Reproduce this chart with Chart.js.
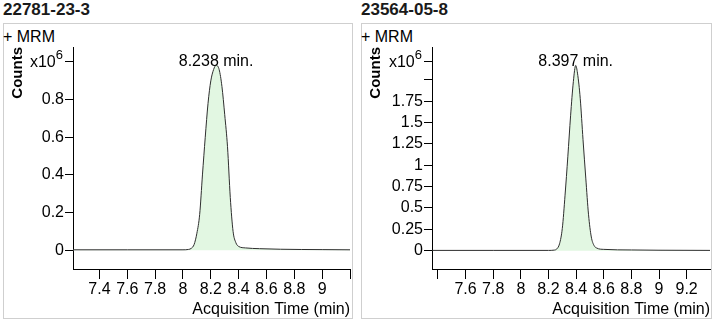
<!DOCTYPE html>
<html>
<head>
<meta charset="utf-8">
<script src="https://cdn.jsdelivr.net/npm/chart.js@4.4.1/dist/chart.umd.min.js"></script>
<style>
  body { margin: 0; background: #fff; width: 719px; height: 323px; overflow: hidden; }
  .title { position: absolute; top: 0px; font: bold 17px "Liberation Sans", Arial, sans-serif; color: #1a1a1a; }
  .box { position: absolute; top: 23px; height: 294px; border: 1px solid #cfcfcf; }
  .mrm { position: absolute; top: 28px; font: 16px "Liberation Sans", Arial, sans-serif; color: #000; }
  canvas { position: absolute; top: 24px; }
</style>
</head>
<body>
<div class="title" style="left:3px">22781-23-3</div>
<div class="title" style="left:361px">23564-05-8</div>
<div class="box" style="left:3px;width:348px"></div>
<div class="box" style="left:361px;width:349px"></div>
<div class="mrm" style="left:3px">+ MRM</div>
<div class="mrm" style="left:361px">+ MRM</div>
<canvas id="chrom-left" width="347" height="296" style="left:4px"></canvas>
<canvas id="chrom-right" width="349" height="296" style="left:362px"></canvas>

<script>
// 22781-23-3 trace (time in min, counts x10^6)
const leftTimes = [7.21, 7.6, 8.0, 8.04, 8.06, 8.08, 8.10, 8.12, 8.14, 8.16, 8.18, 8.20, 8.22, 8.238, 8.26, 8.28, 8.30, 8.32, 8.34, 8.36, 8.38, 8.40, 8.45, 8.55, 8.70, 9.0, 9.2];
const leftCounts = [0.002, 0.002, 0.002, 0.004, 0.01, 0.03, 0.09, 0.19, 0.40, 0.60, 0.78, 0.90, 0.96, 0.983, 0.96, 0.87, 0.72, 0.55, 0.28, 0.10, 0.04, 0.02, 0.012, 0.008, 0.005, 0.003, 0.002];
const leftPeakTime = 8.238;
const leftPeakCounts = 0.983;
const leftPeakLabel = "8.238 min.";
const leftXRange = [7.21, 9.2];
const leftYRange = [-0.1, 1.08];
const leftXTicks = [7.4, 7.6, 7.8, 8, 8.2, 8.4, 8.6, 8.8, 9, 9.2];
const leftXTickLabels = ["7.4", "7.6", "7.8", "8", "8.2", "8.4", "8.6", "8.8", "9", ""];
const leftYTicks = [0, 0.2, 0.4, 0.6, 0.8];
const leftYTickLabels = ["0", "0.2", "0.4", "0.6", "0.8"];

// 23564-05-8 trace
const rightTimes = [7.36, 7.8, 8.2, 8.24, 8.26, 8.28, 8.30, 8.32, 8.34, 8.36, 8.38, 8.397, 8.41, 8.43, 8.45, 8.47, 8.49, 8.51, 8.53, 8.55, 8.60, 8.8, 9.0, 9.37];
const rightCounts = [0.003, 0.003, 0.003, 0.006, 0.02, 0.08, 0.26, 0.65, 1.10, 1.58, 1.98, 2.17, 2.08, 1.78, 1.30, 0.85, 0.42, 0.16, 0.06, 0.03, 0.015, 0.008, 0.005, 0.003];
const rightPeakTime = 8.397;
const rightPeakCounts = 2.17;
const rightPeakLabel = "8.397 min.";
const rightXRange = [7.357, 9.369];
const rightYRange = [-0.215, 2.386];
const rightXTicks = [7.4, 7.6, 7.8, 8, 8.2, 8.4, 8.6, 8.8, 9, 9.2];
const rightXTickLabels = ["", "7.6", "7.8", "8", "8.2", "8.4", "8.6", "8.8", "9", "9.2"];
const rightYTicks = [0, 0.25, 0.5, 0.75, 1, 1.25, 1.5, 1.75, 2];
const rightYTickLabels = ["0", "0.25", "0.5", "0.75", "1", "1.25", "1.5", "1.75", ""];

const FONT = '"Liberation Sans", Arial, sans-serif';

// peak retention label and the x10^6 multiplier at the top of the y axis
const peakLabelPlugin = {
  id: "peakLabel",
  afterDatasetsDraw(chart, args, opts) {
    const { ctx, chartArea, scales } = chart;
    const px = scales.x.getPixelForValue(opts.time);
    const py = scales.y.getPixelForValue(opts.counts);

    ctx.save();
    ctx.fillStyle = "#000";
    ctx.font = "16px " + FONT;
    ctx.textAlign = "center";
    ctx.textBaseline = "middle";
    ctx.fillText(opts.text, px, py - 4);

    const ty = Math.round(chartArea.top + 14) + 0.5;
    ctx.strokeStyle = "#000";
    ctx.lineWidth = 1;
    ctx.beginPath();
    ctx.moveTo(chartArea.left - 8, ty);
    ctx.lineTo(chartArea.left, ty);
    ctx.stroke();

    ctx.font = "13px " + FONT;
    ctx.textAlign = "right";
    const expRight = chartArea.left - 10;
    const expWidth = ctx.measureText("6").width;
    ctx.fillText("6", expRight, ty - 6);
    ctx.font = "16px " + FONT;
    ctx.fillText("x10", expRight - expWidth, ty + 1.5);
    ctx.restore();
  }
};

function buildChart(canvasId, times, counts, cfg) {
  const canvas = document.getElementById(canvasId);
  if (!canvas) return null;

  const points = times.map((t, i) => ({ x: t, y: counts[i] }));

  return new Chart(canvas, {
    type: "line",
    data: {
      datasets: [{
        data: points,
        borderColor: "#2e2e2e",
        borderWidth: 1,
        backgroundColor: "#e2f7e2",
        fill: "origin",
        pointRadius: 0,
        cubicInterpolationMode: "monotone"
      }]
    },
    options: {
      responsive: false,
      animation: false,
      layout: { padding: { top: 23, right: 1, left: 0, bottom: 0 } },
      plugins: {
        legend: { display: false },
        tooltip: { enabled: false },
        peakLabel: { time: cfg.peakTime, counts: cfg.peakCounts, text: cfg.peakText }
      },
      scales: {
        x: {
          type: "linear",
          min: cfg.xRange[0],
          max: cfg.xRange[1],
          border: { display: true, color: "#000", width: 1 },
          grid: { drawOnChartArea: false, tickLength: 10, color: "#000" },
          afterBuildTicks: scale => { scale.ticks = cfg.xTicks.map(v => ({ value: v })); },
          afterFit: scale => { scale.height = 51; },
          ticks: {
            color: "#000",
            font: { family: FONT, size: 16 },
            padding: 1,
            autoSkip: false,
            maxRotation: 0,
            callback: (value, index) => cfg.xLabels[index]
          },
          title: {
            display: true,
            text: "Acquisition Time (min)",
            align: "end",
            color: "#000",
            font: { family: FONT, size: 16 },
            padding: { top: 0, bottom: 1 }
          }
        },
        y: {
          type: "linear",
          min: cfg.yRange[0],
          max: cfg.yRange[1],
          border: { display: true, color: "#000", width: 1 },
          grid: { drawOnChartArea: false, tickLength: 8, color: "#000" },
          afterBuildTicks: scale => { scale.ticks = cfg.yTicks.map(v => ({ value: v })); },
          afterFit: scale => { scale.width = cfg.yWidth; },
          ticks: {
            color: "#000",
            font: { family: FONT, size: 16 },
            padding: 1,
            autoSkip: false,
            callback: (value, index) => cfg.yLabels[index]
          },
          title: {
            display: true,
            text: "Counts",
            align: "end",
            color: "#000",
            font: { family: FONT, size: 15, weight: "bold" },
            padding: { top: 5, bottom: 0 }
          }
        }
      }
    },
    plugins: [peakLabelPlugin]
  });
}

buildChart("chrom-left", leftTimes, leftCounts, {
  peakTime: leftPeakTime, peakCounts: leftPeakCounts, peakText: leftPeakLabel,
  xRange: leftXRange, yRange: leftYRange,
  xTicks: leftXTicks, xLabels: leftXTickLabels,
  yTicks: leftYTicks, yLabels: leftYTickLabels,
  yWidth: 69
});

buildChart("chrom-right", rightTimes, rightCounts, {
  peakTime: rightPeakTime, peakCounts: rightPeakCounts, peakText: rightPeakLabel,
  xRange: rightXRange, yRange: rightYRange,
  xTicks: rightXTicks, xLabels: rightXTickLabels,
  yTicks: rightYTicks, yLabels: rightYTickLabels,
  yWidth: 70
});
</script>
</body>
</html>
